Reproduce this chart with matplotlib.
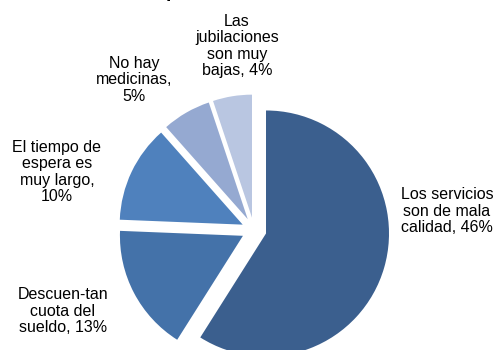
import matplotlib
matplotlib.use("Agg")
import matplotlib.pyplot as plt

# Datos
labels = ["Los servicios\nson de mala\ncalidad, 46%",
          "Descuen-tan\ncuota del\nsueldo, 13%",
          "El tiempo de\nespera es\nmuy largo,\n10%",
          "No hay\nmedicinas,\n5%",
          "Las\njubilaciones\nson muy\nbajas, 4%"]
values = [46, 13, 10, 5, 4]
colors = ["#3B5F8E", "#4472A9", "#4F81BD", "#95A9D1", "#B9C6E1"]

# posiciones de las etiquetas (pixeles, y desde arriba)
label_pos = [(447, 211), (63, 311), (57, 172), (134, 80), (237, 46)]

plt.rcParams['font.family'] = ['Liberation Sans', 'DejaVu Sans']

fig = plt.figure(figsize=(4.98, 3.5), dpi=100)
ax = fig.add_axes([0, 0, 1, 1])
ax.set_xlim(0, 498)
ax.set_ylim(0, 350)
ax.set_aspect('equal')
ax.axis('off')

# explode en pixeles (matplotlib no lo escala con el radio)
ax.pie(values, colors=colors, startangle=90, counterclock=False,
       explode=[12.5] * len(values), radius=123, center=(254, 120),
       wedgeprops=dict(linewidth=0))

for txt, (x, y) in zip(labels, label_pos):
    ax.text(x, 350 - y, txt, ha='center', va='center', fontsize=11.5,
            linespacing=1.1, color='black')

# resto del titulo (cortado arriba)
ax.text(172, 353, "p", ha='center', va='baseline', fontsize=14,
        fontweight='bold', clip_on=False)

ax.set_xlim(0, 498)
ax.set_ylim(0, 350)
fig.savefig("out.png", dpi=100)
